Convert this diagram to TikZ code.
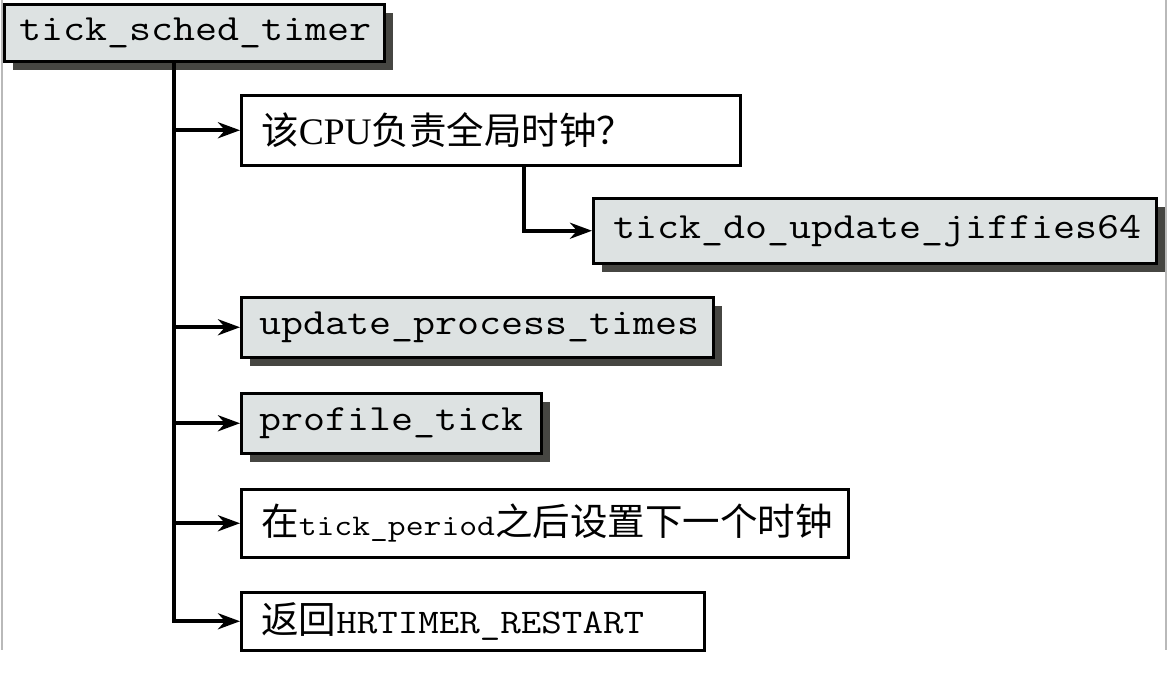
\documentclass[tikz,border=0pt]{standalone}
\usepackage{fontspec}
\setmainfont{Liberation Serif}
\newfontfamily\cjk{Noto Sans CJK SC}
\usepackage{graphicx}
\usetikzlibrary{arrows.meta,shadows}
\definecolor{boxfill}{RGB}{221,226,226}
\definecolor{shadowc}{RGB}{70,70,66}
\definecolor{framec}{RGB}{185,185,185}
\newcommand{\codetxt}[1]{{\ttfamily\scalebox{1.155}[1]{#1}}}
\newcommand{\codesize}{\fontsize{37}{42}\selectfont}
\begin{document}
\begin{tikzpicture}[x=1pt,y=-1pt,
  plainbox/.style={draw=black, fill=white, line width=2.5pt, anchor=north west,
    inner ysep=0pt, align=left, font=\fontsize{37.5}{42}\selectfont},
  codebox/.style={plainbox, fill=boxfill,
    drop shadow={shadow xshift=9pt, shadow yshift=-9pt, fill=shadowc, opacity=1}},
  arr/.style={-{Stealth[length=22pt,width=16pt,inset=7pt]}, line width=4pt}]
\useasboundingbox (0,0) rectangle (1172,678);
\draw[framec, line width=1.2pt] (2,0) -- (2,650);
\draw[framec, line width=1.2pt] (1166,0) -- (1166,650);

\node[codebox, minimum height=57pt, inner xsep=15pt, text width=350pt] (b1) at (3,3)
  {\codesize\codetxt{tick\_sched\_timer}};
\node[plainbox, minimum height=70pt, inner xsep=20pt, text width=459pt] (b2) at (240,94)
  {{\cjk 该}CPU{\cjk 负责全局时钟？}};
\node[codebox, minimum height=65pt, inner xsep=20pt, text width=523pt] (b3) at (592,197)
  {\codesize\codetxt{tick\_do\_update\_jiffies64}};
\node[codebox, minimum height=60pt, inner xsep=18pt, text width=436pt] (b4) at (240,296)
  {\codesize\codetxt{update\_process\_times}};
\node[codebox, minimum height=60pt, inner xsep=18pt, text width=264pt] (b5) at (240,392)
  {\codesize\codetxt{profile\_tick}};
\node[plainbox, minimum height=68pt, inner xsep=20pt, text width=567pt] (b6) at (240,488)
  {{\cjk 在}{\fontsize{30}{36}\selectfont\codetxt{tick\_period}}{\cjk 之后设置下一个时钟}};
\node[plainbox, minimum height=58pt, inner xsep=20pt, text width=423pt] (b7) at (240,591)
  {{\cjk 返回}{\fontsize{34.5}{40}\selectfont\codetxt{HRTIMER\_RESTART}}};

\coordinate (trunk) at (174,0);
\coordinate (sub) at (524,0);
\draw[arr] (b1.south -| trunk) |- (b7.west);
\draw[arr] (b2.west -| trunk) -- (b2.west);
\draw[arr] (b4.west -| trunk) -- (b4.west);
\draw[arr] (b5.west -| trunk) -- (b5.west);
\draw[arr] (b6.west -| trunk) -- (b6.west);
\draw[arr] (b2.south -| sub) |- (b3.west);
\end{tikzpicture}
\end{document}
